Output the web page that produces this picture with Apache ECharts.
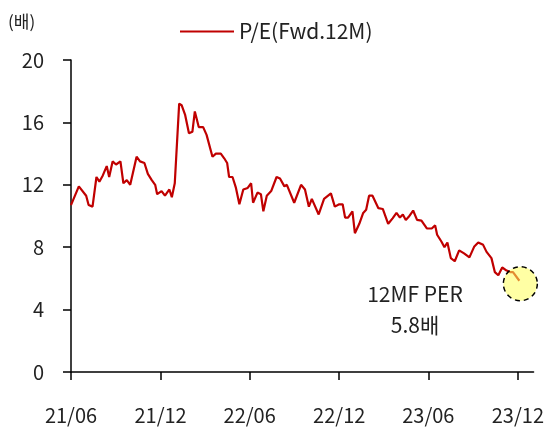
<!DOCTYPE html>
<html>
<head>
<meta charset="utf-8">
<script src="https://cdn.jsdelivr.net/npm/echarts@6/dist/echarts.min.js"></script>
<style>
  html, body { margin: 0; padding: 0; background: #fff; }
  #chart { width: 547px; height: 430px; }
</style>
</head>
<body>
<div id="chart"></div>
<script>
// weekly-ish turning points
const dates = [
  '2021-06-01', '2021-06-17', '2021-07-02', '2021-07-07', '2021-07-15', '2021-07-23', '2021-07-29',
  '2021-08-05', '2021-08-13', '2021-08-18', '2021-08-25', '2021-09-01', '2021-09-10', '2021-09-16',
  '2021-09-23', '2021-09-30', '2021-10-13', '2021-10-20', '2021-10-29', '2021-11-05', '2021-11-13',
  '2021-11-20', '2021-11-24', '2021-12-03', '2021-12-10', '2021-12-19', '2021-12-24', '2021-12-30',
  '2022-01-08', '2022-01-13', '2022-01-20', '2022-01-28', '2022-02-04', '2022-02-09', '2022-02-17',
  '2022-02-26', '2022-03-05', '2022-03-17', '2022-03-24', '2022-04-03', '2022-04-10', '2022-04-16',
  '2022-04-20', '2022-04-27', '2022-05-04', '2022-05-11', '2022-05-19', '2022-05-28', '2022-06-04',
  '2022-06-08', '2022-06-17', '2022-06-24', '2022-06-29', '2022-07-06', '2022-07-15', '2022-07-26',
  '2022-08-02', '2022-08-11', '2022-08-16', '2022-08-31', '2022-09-14', '2022-09-22', '2022-09-30',
  '2022-10-06', '2022-10-20', '2022-10-31', '2022-11-14', '2022-11-22', '2022-12-01', '2022-12-08',
  '2022-12-13', '2022-12-19', '2022-12-28', '2023-01-02', '2023-01-11', '2023-01-19', '2023-01-25',
  '2023-01-31', '2023-02-07', '2023-02-19', '2023-02-28', '2023-03-04', '2023-03-11', '2023-03-20',
  '2023-03-28', '2023-04-04', '2023-04-10', '2023-04-16', '2023-04-22', '2023-05-01', '2023-05-09',
  '2023-05-18', '2023-05-29', '2023-06-08', '2023-06-15', '2023-06-19', '2023-06-28', '2023-07-04',
  '2023-07-10', '2023-07-17', '2023-07-25', '2023-08-03', '2023-08-13', '2023-08-24', '2023-09-03',
  '2023-09-11', '2023-09-21', '2023-09-28', '2023-10-08', '2023-10-15', '2023-10-22', '2023-10-30',
  '2023-11-08', '2023-11-16', '2023-11-21', '2023-12-04'
];

const peFwd = [
  10.7, 11.9, 11.3, 10.7, 10.6, 12.5, 12.2,
  12.6, 13.2, 12.5, 13.5, 13.3, 13.5, 12.1,
  12.3, 12.0, 13.8, 13.5, 13.4, 12.7, 12.3,
  12.0, 11.4, 11.6, 11.3, 11.7, 11.2, 12.1,
  17.2, 17.1, 16.5, 15.3, 15.4, 16.7, 15.7,
  15.7, 15.2, 13.8, 14.0, 14.0, 13.7, 13.4,
  12.5, 12.5, 11.8, 10.75, 11.7, 11.8, 12.1,
  10.85, 11.5, 11.4, 10.3, 11.3, 11.6, 12.5,
  12.4, 11.9, 12.0, 10.85, 12.0, 11.7, 10.6,
  11.1, 10.1, 11.1, 11.45, 10.6, 10.75, 10.75,
  9.9, 9.9, 10.3, 8.9, 9.5, 10.2, 10.4,
  11.3, 11.3, 10.5, 10.45, 10.4, 9.5, 9.85,
  10.2, 9.9, 10.1, 9.75, 9.95, 10.35, 9.75,
  9.7, 9.2, 9.2, 9.4, 8.8, 8.35, 8.0,
  8.3, 7.3, 7.1, 7.8, 7.6, 7.35, 8.05,
  8.3, 8.15, 7.7, 7.3, 6.4, 6.2, 6.7,
  6.5, 6.4, 6.4, 5.85
];

const tickDates = ['2021-06-01', '2021-12-01', '2022-06-01', '2022-12-01', '2023-06-01', '2023-12-01'];
const tickLabels = ['21/06', '21/12', '22/06', '22/12', '23/06', '23/12'];
const axisStart = '2021-06-01';
const axisEnd = '2024-01-02';

const seriesName = 'P/E(Fwd.12M)';
const unitLabel = '(배)';
const noteText = '12MF PER\n5.8배';

const FONT = '"Noto Sans CJK KR", "Noto Sans", sans-serif';

const toTime = (s) => {
  const [y, m, d] = s.split('-').map(Number);
  return Date.UTC(y, m - 1, d);
};

const tickTimes = tickDates.map(toTime);
const lineData = dates.map((d, i) => [toTime(d), peFwd[i]]);
const last = lineData[lineData.length - 1];

const chart = echarts.init(document.getElementById('chart'));

const option = {
  animation: false,
  textStyle: { fontFamily: FONT },
  grid: {
    left: 71,
    right: 13,
    top: 60,
    bottom: 58,
    containLabel: false,
  },
  legend: {
    left: 175,
    top: 16,
    itemWidth: 54,
    itemHeight: 2,
    itemGap: 8,
    textStyle: { fontSize: 21, color: '#222', fontFamily: FONT },
    data: [{ name: seriesName, icon: 'rect' }],
  },
  graphic: [
    {
      type: 'text',
      left: 8,
      top: 13,
      style: { text: unitLabel, fontSize: 17, fill: '#222', fontFamily: FONT },
    },
    {
      type: 'text',
      x: 415,
      y: 310,
      z: 100,
      style: {
        text: noteText,
        fontSize: 21,
        lineHeight: 31,
        fill: '#222',
        align: 'center',
        verticalAlign: 'middle',
        fontFamily: FONT,
      },
    },
  ],
  xAxis: {
    type: 'value',
    min: toTime(axisStart),
    max: toTime(axisEnd),
    splitLine: { show: false },
    axisLine: { show: true, lineStyle: { color: '#000', width: 1.5 } },
    axisTick: {
      show: true,
      length: 8,
      customValues: tickTimes,
      lineStyle: { color: '#000', width: 1.5 },
    },
    axisLabel: {
      customValues: tickTimes,
      margin: 33,
      fontSize: 20,
      color: '#222',
      fontFamily: FONT,
      hideOverlap: false,
      formatter: (val) => {
        const i = tickTimes.indexOf(val);
        return i >= 0 ? tickLabels[i] : '';
      },
    },
  },
  yAxis: {
    type: 'value',
    min: 0,
    max: 20,
    interval: 4,
    splitLine: { show: false },
    axisLine: { show: true, lineStyle: { color: '#000', width: 1.5 } },
    axisTick: { show: true, length: 8, lineStyle: { color: '#000', width: 1.5 } },
    axisLabel: { margin: 27, fontSize: 20, color: '#222', fontFamily: FONT },
  },
  series: [
    {
      name: seriesName,
      type: 'line',
      data: lineData,
      symbol: 'none',
      lineStyle: { color: '#C00000', width: 2.2 },
      itemStyle: { color: '#C00000' },
      markPoint: {
        silent: true,
        symbol: 'circle',
        symbolSize: 34,
        symbolOffset: [1, 3],
        label: { show: false },
        itemStyle: {
          color: 'rgba(255, 255, 90, 0.55)',
          borderColor: '#000',
          borderWidth: 1.5,
          borderType: [5, 4],
        },
        data: [{ coord: last }],
      },
    },
  ],
};

chart.setOption(option);
</script>
</body>
</html>
